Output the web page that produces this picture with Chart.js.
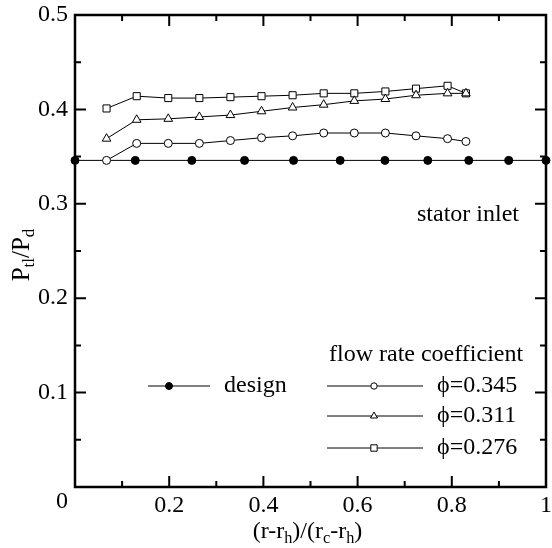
<!DOCTYPE html>
<html>
<head>
<meta charset="utf-8">
<script src="https://cdn.jsdelivr.net/npm/chart.js@4/dist/chart.umd.min.js"></script>
<style>
  html, body { margin: 0; padding: 0; background: #fff; }
</style>
</head>
<body>
<canvas id="canvas" width="552" height="548"></canvas>
<script>
// design line (filled dots)
const xDesign = [0, 0.128, 0.248, 0.36, 0.464, 0.563, 0.658, 0.749, 0.836, 0.921, 1.0];
const yDesign = [0.346, 0.346, 0.346, 0.346, 0.346, 0.346, 0.346, 0.346, 0.346, 0.346, 0.346];

// measured radial positions
const xMeas = [0.067, 0.131, 0.198, 0.264, 0.330, 0.396, 0.462, 0.528, 0.593, 0.659, 0.724, 0.791, 0.830];
const phi345 = [0.346, 0.364, 0.364, 0.364, 0.367, 0.370, 0.372, 0.375, 0.375, 0.375, 0.372, 0.369, 0.366];
const phi311 = [0.369, 0.389, 0.390, 0.392, 0.394, 0.398, 0.402, 0.405, 0.409, 0.411, 0.415, 0.417, 0.417];
const phi276 = [0.401, 0.414, 0.412, 0.412, 0.413, 0.414, 0.415, 0.417, 0.417, 0.419, 0.422, 0.425, 0.417];

const seriesLabels = ['\u03d5=0.345', '\u03d5=0.311', '\u03d5=0.276'];
const designLabel = 'design';

const xMajor = [0, 0.2, 0.4, 0.6, 0.8, 1];
const xMinor = [0.1, 0.3, 0.5, 0.7, 0.9];
const yMajor = [0, 0.1, 0.2, 0.3, 0.4, 0.5];
const yMinor = [0.05, 0.15, 0.25, 0.35, 0.45];

const serif = "'Liberation Serif', 'Times New Roman', serif";

function pts(xs, ys) {
    return xs.map((x, i) => ({ x: x, y: ys[i] }));
}

// draws text with subscripts, parts = [[text, isSub], ...]
function drawSubText(ctx, parts, x, y, size) {
    let w = 0;
    parts.forEach(p => {
        ctx.font = (p[1] ? size * 0.68 : size) + 'px ' + serif;
        w += ctx.measureText(p[0]).width;
    });
    let cx = x - w / 2;
    ctx.textAlign = 'left';
    ctx.textBaseline = 'middle';
    parts.forEach(p => {
        ctx.font = (p[1] ? size * 0.68 : size) + 'px ' + serif;
        ctx.fillText(p[0], cx, p[1] ? y + size * 0.3 : y);
        cx += ctx.measureText(p[0]).width;
    });
}

const framePlugin = {
    id: 'frame',
    afterDraw(chart) {
        const ctx = chart.ctx;
        const a = chart.chartArea;
        const xs = chart.scales.x, ys = chart.scales.y;
        ctx.save();
        ctx.strokeStyle = '#000';
        ctx.fillStyle = '#000';

        // inward ticks on all four sides
        ctx.lineWidth = 2;
        ctx.beginPath();
        const tickX = (vals, len) => vals.forEach(v => {
            const px = xs.getPixelForValue(v);
            ctx.moveTo(px, a.bottom); ctx.lineTo(px, a.bottom - len);
            ctx.moveTo(px, a.top); ctx.lineTo(px, a.top + len);
        });
        const tickY = (vals, len) => vals.forEach(v => {
            const py = ys.getPixelForValue(v);
            ctx.moveTo(a.left, py); ctx.lineTo(a.left + len, py);
            ctx.moveTo(a.right, py); ctx.lineTo(a.right - len, py);
        });
        tickX(xMajor, 11); tickX(xMinor, 6);
        tickY(yMajor, 11); tickY(yMinor, 6);
        ctx.stroke();

        ctx.lineWidth = 2.5;
        ctx.strokeRect(a.left, a.top, a.right - a.left, a.bottom - a.top);

        // the shared "0" at the corner
        ctx.font = '24px ' + serif;
        ctx.textAlign = 'center';
        ctx.textBaseline = 'middle';
        ctx.fillText('0', a.left - 13, a.bottom + 15);

        // axis titles
        drawSubText(ctx, [['(r-r', 0], ['h', 1], [')/(r', 0], ['c', 1], ['-r', 0], ['h', 1], [')', 0]],
            (a.left + a.right) / 2 - 3, 532, 24);
        ctx.save();
        ctx.translate(22, (a.top + a.bottom) / 2 + 4);
        ctx.rotate(-Math.PI / 2);
        drawSubText(ctx, [['P', 0], ['tl', 1], ['/P', 0], ['d', 1]], 0, 0, 25);
        ctx.restore();

        // annotations
        ctx.font = '24px ' + serif;
        ctx.textAlign = 'left';
        ctx.textBaseline = 'middle';
        ctx.fillText('stator inlet', 417, 215);
        ctx.fillText('flow rate coefficient', 329, 355);

        // legend
        const ds = chart.data.datasets;
        const drawEntry = (d, x1, x2, mx, y, r, tx) => {
            ctx.strokeStyle = '#000';
            ctx.lineWidth = 1;
            ctx.beginPath();
            ctx.moveTo(x1, y); ctx.lineTo(x2, y);
            ctx.stroke();
            ctx.fillStyle = d.pointBackgroundColor;
            ctx.strokeStyle = '#000';
            ctx.lineWidth = 1;
            Chart.helpers.drawPoint(ctx, { pointStyle: d.pointStyle, radius: r, borderWidth: 1, rotation: 0 }, mx, y);
            ctx.fillStyle = '#000';
            ctx.font = '24px ' + serif;
            ctx.fillText(d.label, tx, y);
        };
        drawEntry(ds[3], 148, 210, 169, 386, 3.5, 224);
        drawEntry(ds[0], 327, 423, 374, 386, 3.2, 437);
        drawEntry(ds[1], 327, 423, 374, 416, 4, 437);
        drawEntry(ds[2], 327, 423, 374, 448, 4.5, 437);
        ctx.restore();
    }
};

const ctx = document.getElementById('canvas').getContext('2d');
const chart = new Chart(ctx, {
    type: 'line',
    data: {
        datasets: [
            {
                label: seriesLabels[0],
                data: pts(xMeas, phi345),
                borderColor: '#000',
                borderWidth: 1,
                pointStyle: 'circle',
                pointRadius: 4,
                pointBorderWidth: 1,
                pointBorderColor: '#000',
                pointBackgroundColor: '#fff',
                fill: false,
                tension: 0
            },
            {
                label: seriesLabels[1],
                data: pts(xMeas, phi311),
                borderColor: '#000',
                borderWidth: 1,
                pointStyle: 'triangle',
                pointRadius: 5,
                pointBorderWidth: 1,
                pointBorderColor: '#000',
                pointBackgroundColor: '#fff',
                fill: false,
                tension: 0
            },
            {
                label: seriesLabels[2],
                data: pts(xMeas, phi276),
                borderColor: '#000',
                borderWidth: 1,
                pointStyle: 'rect',
                pointRadius: 5,
                pointBorderWidth: 1,
                pointBorderColor: '#000',
                pointBackgroundColor: '#fff',
                fill: false,
                tension: 0
            },
            {
                label: designLabel,
                data: pts(xDesign, yDesign),
                borderColor: '#000',
                borderWidth: 1,
                pointStyle: 'circle',
                pointRadius: 4,
                pointBorderWidth: 1,
                pointBorderColor: '#000',
                pointBackgroundColor: '#000',
                fill: false,
                clip: false,
                tension: 0
            }
        ]
    },
    options: {
        responsive: false,
        animation: false,
        layout: { padding: { top: 15, right: 2, left: 0, bottom: 0 } },
        plugins: {
            legend: { display: false },
            tooltip: { enabled: false }
        },
        scales: {
            x: {
                type: 'linear',
                min: 0,
                max: 1,
                afterBuildTicks: s => { s.ticks = xMajor.map(v => ({ value: v })); },
                afterFit: s => { s.height = 61; s.paddingLeft = 0; s.paddingRight = 0; },
                grid: { display: false, drawTicks: false },
                border: { display: false },
                ticks: {
                    autoSkip: false,
                    maxRotation: 0,
                    padding: 4,
                    color: '#000',
                    font: { family: serif, size: 24 },
                    callback: v => (v === 0 ? '' : (v === 1 ? '1' : v.toFixed(1)))
                }
            },
            y: {
                type: 'linear',
                min: 0,
                max: 0.5,
                afterBuildTicks: s => { s.ticks = yMajor.map(v => ({ value: v })); },
                afterFit: s => { s.width = 75; s.paddingTop = 0; s.paddingBottom = 0; },
                grid: { display: false, drawTicks: false },
                border: { display: false },
                ticks: {
                    autoSkip: false,
                    padding: 7,
                    color: '#000',
                    font: { family: serif, size: 24 },
                    callback: v => (v === 0 ? '' : v.toFixed(1))
                }
            }
        }
    },
    plugins: [framePlugin]
});
</script>
</body>
</html>
